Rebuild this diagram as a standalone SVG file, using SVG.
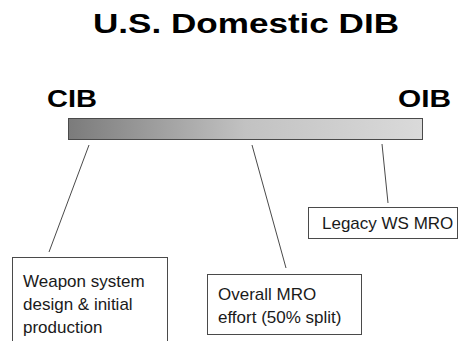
<svg xmlns="http://www.w3.org/2000/svg" width="458" height="341" viewBox="0 0 458 341">
  <defs>
    <linearGradient id="scale" x1="0" y1="0" x2="1" y2="0">
      <stop offset="0" stop-color="#7b7b7b"/>
      <stop offset="0.5" stop-color="#c2c2c2"/>
      <stop offset="1" stop-color="#dadada"/>
    </linearGradient>
    <style>
      .head { font-family: "Liberation Sans", Arial, sans-serif; font-weight: bold; fill: #000; }
      .label { font-family: "Liberation Sans", Arial, sans-serif; font-size: 17px; fill: #1a1a1a; }
      .box { fill: #fff; stroke: #4a4a4a; stroke-width: 1; }
      .link { stroke: #4a4a4a; stroke-width: 1; fill: none; }
    </style>
  </defs>
  <rect width="458" height="341" fill="#fff"/>

  <text class="head" x="93" y="33" font-size="28" textLength="306" lengthAdjust="spacingAndGlyphs">U.S. Domestic DIB</text>

  <g id="scale-bar">
    <text class="head" x="47" y="107" font-size="24" textLength="50" lengthAdjust="spacingAndGlyphs">CIB</text>
    <text class="head" x="398" y="107" font-size="24" textLength="53" lengthAdjust="spacingAndGlyphs">OIB</text>
    <rect x="68.5" y="118.5" width="354" height="21" fill="url(#scale)" stroke="#4a4a4a" stroke-width="1"/>
  </g>

  <g id="connectors">
    <line class="link" x1="89" y1="145" x2="49" y2="252"/>
    <line class="link" x1="252" y1="145" x2="286" y2="268"/>
    <line class="link" x1="382" y1="144" x2="388" y2="203"/>
  </g>

  <g id="design-production">
    <rect class="box" x="12.5" y="257.5" width="155" height="90"/>
    <text class="label" x="23" y="287">Weapon system</text>
    <text class="label" x="23" y="310">design &amp; initial</text>
    <text class="label" x="23" y="333">production</text>
  </g>

  <g id="overall-mro">
    <rect class="box" x="207.5" y="274.5" width="154" height="60"/>
    <text class="label" x="218" y="300">Overall MRO</text>
    <text class="label" x="218" y="323">effort (50% split)</text>
  </g>

  <g id="legacy-mro">
    <rect class="box" x="308.5" y="207.5" width="149" height="31"/>
    <text class="label" x="322" y="229">Legacy WS MRO</text>
  </g>
</svg>
